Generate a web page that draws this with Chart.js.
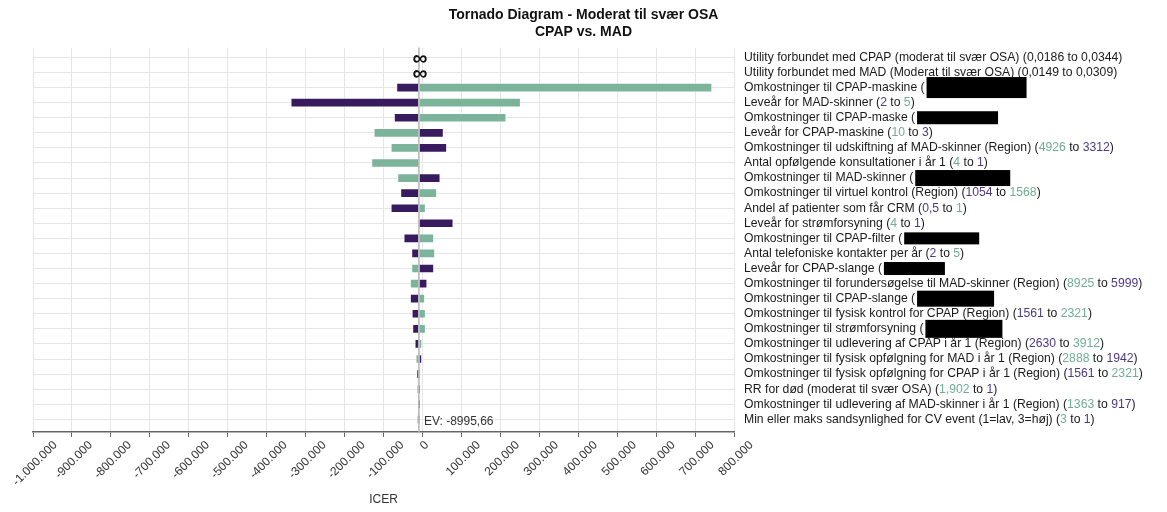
<!DOCTYPE html>
<html>
<head>
<meta charset="utf-8">
<script src="https://cdn.jsdelivr.net/npm/chart.js@4.4.1/dist/chart.umd.min.js"></script>
<style>
  html, body { margin: 0; padding: 0; background: #fff; }
  #wrap { width: 1167px; height: 512px; }
</style>
</head>
<body>
<div id="wrap"><canvas id="tornado"></canvas></div>
<script>
// expected value (ICER) at base case
const EV = -8995.66;

const paramNames = [
  'Utility forbundet med CPAP (moderat til svær OSA)',
  'Utility forbundet med MAD (Moderat til svær OSA)',
  'Omkostninger til CPAP-maskine',
  'Leveår for MAD-skinner',
  'Omkostninger til CPAP-maske',
  'Leveår for CPAP-maskine',
  'Omkostninger til udskiftning af MAD-skinner (Region)',
  'Antal opfølgende konsultationer i år 1',
  'Omkostninger til MAD-skinner',
  'Omkostninger til virtuel kontrol (Region)',
  'Andel af patienter som får CRM',
  'Leveår for strømforsyning',
  'Omkostninger til CPAP-filter',
  'Antal telefoniske kontakter per år',
  'Leveår for CPAP-slange',
  'Omkostninger til forundersøgelse til MAD-skinner (Region)',
  'Omkostninger til CPAP-slange',
  'Omkostninger til fysisk kontrol for CPAP (Region)',
  'Omkostninger til strømforsyning',
  'Omkostninger til udlevering af CPAP i år 1 (Region)',
  'Omkostninger til fysisk opfølgning for MAD i år 1 (Region)',
  'Omkostninger til fysisk opfølgning for CPAP i år 1 (Region)',
  'RR for død (moderat til svær OSA)',
  'Omkostninger til udlevering af MAD-skinner i år 1 (Region)',
  'Min eller maks sandsynlighed for CV event (1=lav, 3=høj)'
];

// input range (null = hidden in the source)
const lowInputs  = ['0,0186', '0,0149', null, '2', null, '3', '3312', '1', null, '1054', '0,5', '1', null, '2', null, '5999', null, '1561', null, '2630', '1942', '1561', '1', '917', '1'];
const highInputs = ['0,0344', '0,0309', null, '5', null, '10', '4926', '4', null, '1568', '1', '4', null, '5', null, '8925', null, '2321', null, '3912', '2888', '2321', '1,902', '1363', '3'];

// ICER at low / high input (null = infinite)
const icerLow  = [null, null, -66600, -338000, -72700, 54000, 62600, EV, 45600, -56300, -81000, 79000, -47800, -28000, 29300, 12000, -31500, -27000, -25500, -19500, -1500, -15000, -5000, -6700, -8000];
const icerHigh = [null, null, 743600, 252000, 215000, -124800, -81000, -130800, -64000, 37000, 8000, EV, 29300, 31900, -28000, -31500, 6200, 8000, 8000, 0, -17000, -5000, -14400, -12600, -14400];

const xTicksMin = -1000000;
const xTicksMax = 800000;
const xTickStep = 100000;

const PURPLE = '#381b5e';
const GREEN = '#7bb39b';
const PURPLE_TXT = '#4d3982';
const GREEN_TXT = '#70ad94';
const TXT = '#1a1a1a';
const FONT = "'Liberation Sans', Arial, sans-serif";
const GRID = '#e6e6e6';

// black boxes covering hidden values: row -> [width, height]
const redactBoxes = { 2: [100, 21], 4: [81, 13], 8: [95, 16], 12: [75, 12], 14: [61, 13], 16: [77, 16], 18: [77, 18] };

function barData(values) {
  const out = [];
  values.forEach((v, i) => {
    if (v === null || v === EV) return;
    out.push({ y: i, x: [EV, v] });
  });
  return out;
}

function fmtTick(v) {
  if (v === 0) return '0';
  const s = Math.abs(v).toString().replace(/\B(?=(\d{3})+(?!\d))/g, '.');
  return (v < 0 ? '-' : '') + s;
}

function drawSegs(ctx, x, y, segs) {
  segs.forEach(([t, c]) => {
    ctx.fillStyle = c;
    ctx.fillText(t, x, y);
    x += ctx.measureText(t).width;
  });
  return x;
}

const tornadoExtras = {
  id: 'tornadoExtras',
  afterDatasetsDraw(chart) {
    const { ctx, chartArea, scales: { x } } = chart;
    const evX = x.getPixelForValue(EV);
    ctx.save();
    ctx.strokeStyle = '#b3b3b3';
    ctx.lineWidth = 1.5;
    ctx.beginPath();
    ctx.moveTo(evX, chartArea.top);
    ctx.lineTo(evX, chartArea.bottom);
    ctx.stroke();
    ctx.restore();
  },
  afterDraw(chart) {
    const { ctx, chartArea, scales: { x, y } } = chart;
    const evX = x.getPixelForValue(EV);
    ctx.save();
    ctx.textBaseline = 'middle';

    // x tick labels, rotated around their centre under each tick
    ctx.font = '12px ' + FONT;
    ctx.fillStyle = '#333';
    ctx.textAlign = 'center';
    x.ticks.forEach(t => {
      const label = fmtTick(t.value);
      const w = ctx.measureText(label).width;
      const cy = chartArea.bottom + 7 + (w + 12) * Math.SQRT1_2 / 2;
      ctx.save();
      ctx.translate(x.getPixelForValue(t.value) + 2, cy);
      ctx.rotate(-Math.PI / 4);
      ctx.fillText(label, 0, 0);
      ctx.restore();
    });

    // right side labels
    ctx.font = '12.2px ' + FONT;
    ctx.textAlign = 'left';
    const lx = chartArea.right + 10;
    paramNames.forEach((name, i) => {
      const py = y.getPixelForValue(i);
      if (lowInputs[i] === null) {
        drawSegs(ctx, lx, py, [[name + ' (', TXT]]);
        const [w, h] = redactBoxes[i];
        const bx = lx + ctx.measureText(name + ' ').width + 6;
        ctx.fillStyle = '#000';
        ctx.fillRect(bx, py - h / 2, w, h);
      } else if (icerLow[i] === null) {
        drawSegs(ctx, lx, py, [[name + ' (' + lowInputs[i] + ' to ' + highInputs[i] + ')', TXT]]);
      } else {
        const lowFirst = icerLow[i] <= icerHigh[i];
        const a = lowFirst ? [lowInputs[i], PURPLE_TXT] : [highInputs[i], GREEN_TXT];
        const b = lowFirst ? [highInputs[i], GREEN_TXT] : [lowInputs[i], PURPLE_TXT];
        drawSegs(ctx, lx, py, [[name + ' (', TXT], a, [' to ', TXT], b, [')', TXT]]);
      }
    });

    // infinite ICER markers
    ctx.font = 'bold 21px ' + FONT;
    ctx.textAlign = 'center';
    ctx.fillStyle = '#111';
    icerLow.forEach((v, i) => {
      if (v === null) ctx.fillText('\u221e', evX + 1, y.getPixelForValue(i) + 2);
    });

    // EV label
    ctx.font = '12px ' + FONT;
    ctx.textAlign = 'left';
    ctx.fillStyle = '#333';
    ctx.fillText('EV: ' + EV.toFixed(2).replace('.', ','), evX + 5, y.getPixelForValue(paramNames.length - 1) + 2);
    ctx.restore();
  }
};

Chart.defaults.font.family = FONT;

new Chart(document.getElementById('tornado'), {
  type: 'bar',
  data: {
    datasets: [
      {
        label: 'Low',
        data: barData(icerLow),
        backgroundColor: PURPLE,
        borderColor: 'rgba(255,255,255,0.5)',
        borderWidth: 1,
        borderSkipped: false,
        barThickness: 9,
        grouped: false
      },
      {
        label: 'High',
        data: barData(icerHigh),
        backgroundColor: GREEN,
        borderColor: 'rgba(255,255,255,0.5)',
        borderWidth: 1,
        borderSkipped: false,
        barThickness: 9,
        grouped: false
      }
    ]
  },
  options: {
    indexAxis: 'y',
    responsive: true,
    maintainAspectRatio: false,
    animation: false,
    layout: { padding: 0 },
    plugins: {
      legend: { display: false },
      tooltip: { enabled: false },
      title: {
        display: true,
        text: ['Tornado Diagram - Moderat til svær OSA', 'CPAP vs. MAD'],
        color: '#111',
        font: { size: 14, weight: 'bold', lineHeight: 1.2 },
        padding: { top: 7, bottom: 7 }
      }
    },
    scales: {
      x: {
        type: 'linear',
        min: xTicksMin,
        max: xTicksMax,
        ticks: { stepSize: xTickStep, autoSkip: false, display: false },
        grid: { color: GRID, tickColor: '#666', tickLength: 5 },
        border: { color: '#666', width: 1.5 },
        title: { display: true, text: 'ICER', color: '#333', font: { size: 12 }, padding: { top: 4, bottom: 5 } },
        afterFit(scale) { scale.paddingLeft = 33; scale.paddingRight = 0; scale.height = 80; }
      },
      y: {
        type: 'linear',
        position: 'right',
        reverse: true,
        offset: false,
        bounds: 'data',
        min: -0.65,
        max: 24.84,
        ticks: { display: false },
        grid: { color: GRID, drawTicks: false, offset: false },
        border: { display: false },
        // one grid line through the centre of each row
        afterBuildTicks(scale) { scale.ticks = paramNames.map((_, i) => ({ value: i })); },
        afterFit(scale) { scale.width = 433; }
      }
    }
  },
  plugins: [tornadoExtras]
});
</script>
</body>
</html>
